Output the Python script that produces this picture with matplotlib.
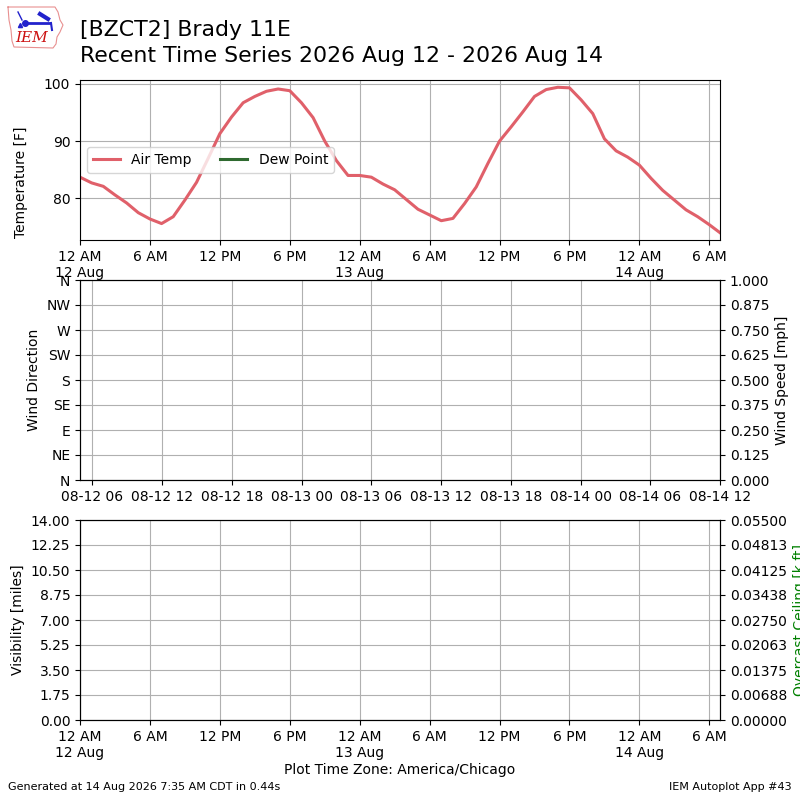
#!/usr/bin/env python3
"""Recent time series plot for a single station (temperature, wind, visibility)."""

import datetime
import matplotlib
matplotlib.use('Agg')
import matplotlib.pyplot as plt
import matplotlib.dates as mdates
from matplotlib.ticker import FuncFormatter, FormatStrFormatter
import numpy as np

STATION = '[BZCT2] Brady 11E'
SUBTITLE = 'Recent Time Series 2026 Aug 12 - 2026 Aug 14'

# hourly obs starting 12 Aug 00:00, last one at 14 Aug 06:55
START = datetime.datetime(2026, 8, 12, 0, 0)
LAST_OB = datetime.datetime(2026, 8, 14, 6, 55)
air_temp = [
    83.7, 82.7, 82.1, 80.6, 79.2, 77.5, 76.4, 75.6, 76.8, 79.7,
    82.8, 87.0, 91.3, 94.2, 96.7, 97.8, 98.7, 99.1, 98.8, 96.7,
    94.1, 90.0, 86.6, 84.0, 84.0, 83.7, 82.5, 81.5, 79.8, 78.1,
    77.1, 76.1, 76.5, 79.1, 82.0, 86.1, 90.0, 92.5, 95.1, 97.8,
    99.0, 99.4, 99.3, 97.2, 94.8, 90.4, 88.3, 87.2, 85.8, 83.5,
    81.4, 79.7, 78.0, 76.8, 75.4, 74.0,
]
dew_point = []

compass = ['N', 'NE', 'E', 'SE', 'S', 'SW', 'W', 'NW', 'N']
wind_xlim = (datetime.datetime(2026, 8, 12, 4, 56), datetime.datetime(2026, 8, 14, 12, 0))

times = [START + datetime.timedelta(hours=h) for h in range(len(air_temp) - 1)]
times.append(LAST_OB)


def ampm_fmt(x, pos=None):
    dt = mdates.num2date(x)
    hour = dt.hour % 12
    if hour == 0:
        hour = 12
    label = f"{hour} {'AM' if dt.hour < 12 else 'PM'}"
    if dt.hour == 0:
        label += "\n" + dt.strftime('%d %b')
    return label


def setup_time_axis(ax):
    ax.xaxis.set_major_locator(mdates.HourLocator(byhour=range(0, 24, 6)))
    ax.xaxis.set_major_formatter(FuncFormatter(ampm_fmt))
    ax.set_xlim(times[0], times[-1])
    ax.grid(True)


def draw_logo(fig):
    # rough IEM logo: state outline, windmill-ish symbol, text
    lax = fig.add_axes([0, 1 - 60 / 800, 80 / 800, 60 / 800])
    lax.set_xlim(0, 80)
    lax.set_ylim(60, 0)
    lax.axis('off')
    ox = [8, 55, 58, 60, 63, 60, 57, 56, 53, 14, 12, 11, 9, 8]
    oy = [7, 7, 12, 20, 25, 32, 37, 44, 48, 47, 41, 30, 20, 7]
    lax.plot(ox, oy, color='#e89090', lw=0.8)
    lax.plot([24, 49], [23, 23], color='#2222cc', lw=2)
    lax.plot([25], [23], 'o', color='#2222cc', ms=4)
    lax.plot([18, 22], [12, 20], color='#2222cc', lw=1)
    lax.plot([40, 48], [14, 19], color='#2222cc', lw=3)
    lax.plot([51, 52], [23, 30], color='#2222cc', lw=1.5)
    lax.plot([20], [25], '^', color='#2222cc', ms=3)
    lax.text(32, 38, 'IEM', fontsize=11, color='#cc1111', family='DejaVu Serif',
             style='italic', ha='center', va='center')


fig = plt.figure(figsize=(8, 8), dpi=100)
draw_logo(fig)

fig.text(0.1, 0.9625, STATION, fontsize=15.8, va='center')
fig.text(0.1, 0.93, SUBTITLE, fontsize=15.8, va='center')
fig.text(0.01, 0.0125, 'Generated at 14 Aug 2026 7:35 AM CDT in 0.44s', fontsize=8)
fig.text(0.99, 0.0125, 'IEM Autoplot App #43', fontsize=8, ha='right')
fig.text(0.5, 0.032, 'Plot Time Zone: America/Chicago', fontsize=10, ha='center')

# temperature
ax1 = fig.add_axes([0.1, 0.7, 0.8, 0.2])
ax1.plot(times, air_temp, color='#e0606a', lw=2.2, label='Air Temp')
ax1.plot([], [], color='#2f6a30', lw=2.2, label='Dew Point')
ax1.set_ylabel('Temperature [F]')
ax1.yaxis.set_label_coords(-0.082, 0.36)
ax1.set_yticks([80, 90, 100])
setup_time_axis(ax1)
ax1.legend(loc='center left', ncol=2)

# wind
ax2 = fig.add_axes([0.1, 0.4, 0.8, 0.25])
ax2.set_ylim(0, 360)
ax2.set_yticks(np.arange(0, 361, 45))
ax2.set_yticklabels(compass)
ax2.set_ylabel('Wind Direction')
ax2.set_xlim(*wind_xlim)
ax2.xaxis.set_major_locator(mdates.HourLocator(byhour=range(0, 24, 6)))
ax2.xaxis.set_major_formatter(mdates.DateFormatter('%m-%d %H'))
ax2.grid(True)
ax2b = ax2.twinx()
ax2b.set_ylim(0, 1)
ax2b.set_yticks(np.linspace(0, 1, 9))
ax2b.yaxis.set_major_formatter(FormatStrFormatter('%.3f'))
ax2b.set_ylabel('Wind Speed [mph]')

# visibility / ceiling
ax3 = fig.add_axes([0.1, 0.1, 0.8, 0.25])
ax3.set_ylim(0, 14)
ax3.set_yticks(np.linspace(0, 14, 9))
ax3.yaxis.set_major_formatter(FormatStrFormatter('%.2f'))
ax3.set_ylabel('Visibility [miles]')
setup_time_axis(ax3)
ax3b = ax3.twinx()
ax3b.set_ylim(0, 0.055)
ax3b.set_yticks(np.linspace(0, 0.055, 9))
ax3b.yaxis.set_major_formatter(FormatStrFormatter('%.5f'))
ax3b.set_ylabel('Overcast Ceiling [k ft]', color='g')

fig.savefig('out.png')
